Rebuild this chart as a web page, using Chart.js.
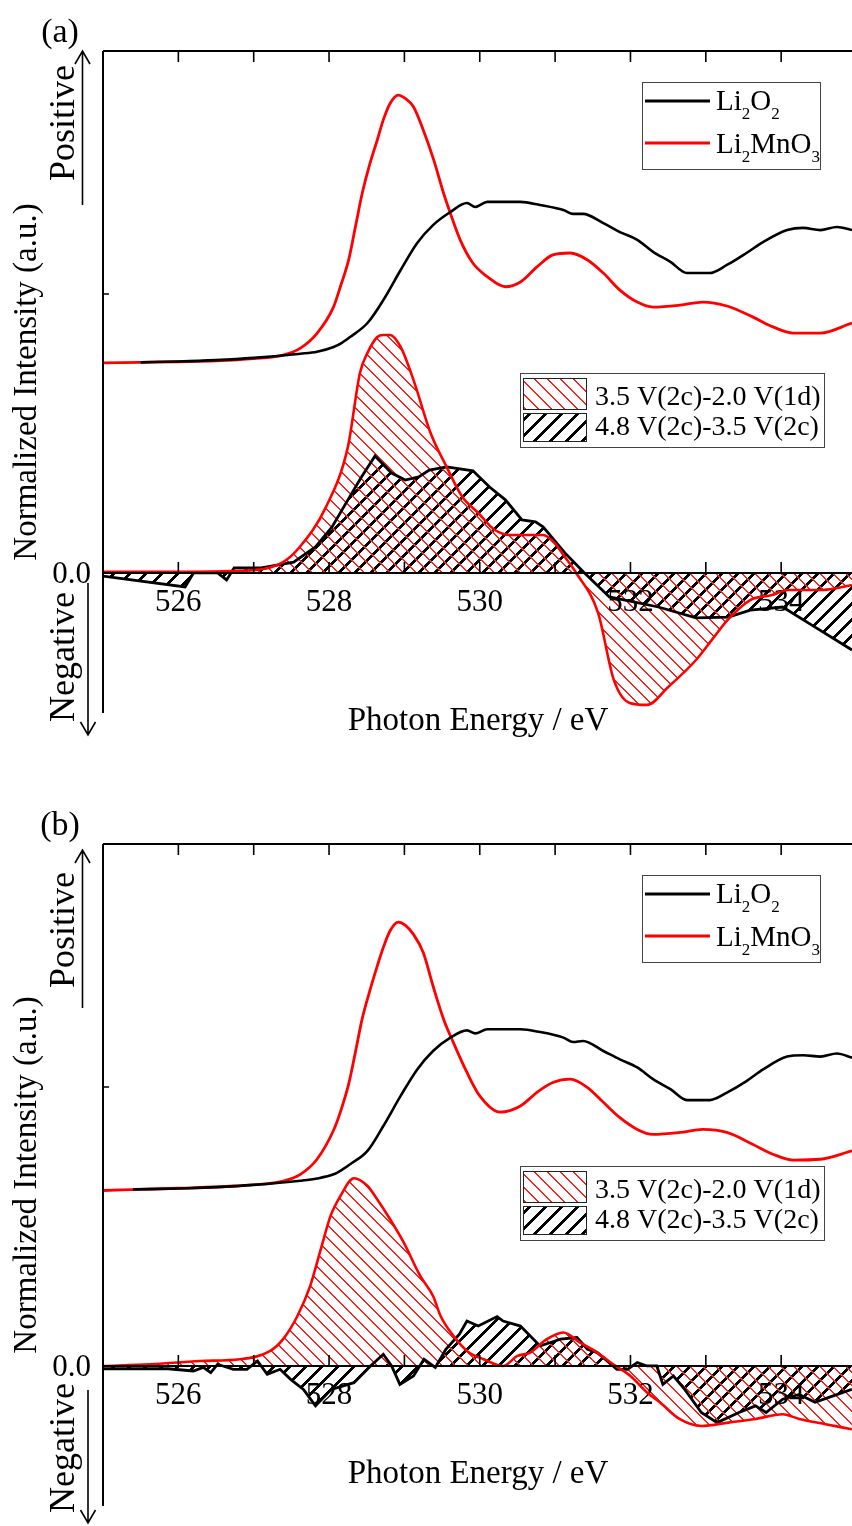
<!DOCTYPE html>
<html>
<head>
<meta charset="utf-8">
<script src="https://cdn.jsdelivr.net/npm/chart.js@4.4.1/dist/chart.umd.min.js"></script>
<style>
  body { margin: 0; background: #fff; }
  #wrap { position: relative; width: 852px; height: 1526px; }
  canvas { position: absolute; left: 0; }
</style>
</head>
<body>
<div id="wrap">
  <canvas id="panelA" width="852" height="763" style="top:0px"></canvas>
  <canvas id="panelB" width="852" height="733" style="top:793px"></canvas>
</div>
<script>
// ---- datos (energia en eV, intensidad normalizada) ----
// panel (a)
const aMnE = [525.0, 525.5, 526.0, 526.5, 527.0, 527.39, 527.62, 527.84, 528.06, 528.15, 528.26, 528.35, 528.44, 528.53, 528.64, 528.72, 528.81, 528.92, 529.01, 529.12, 529.25, 529.39, 529.52, 529.61, 529.74, 529.91, 530.10, 530.34, 530.54, 530.76, 530.97, 531.20, 531.43, 531.64, 531.86, 532.09, 532.30, 532.66, 532.96, 533.28, 533.62, 533.89, 534.16, 534.52, 534.94];
const aMnI = [0.753, 0.755, 0.757, 0.760, 0.768, 0.781, 0.806, 0.859, 0.954, 1.026, 1.122, 1.241, 1.361, 1.456, 1.552, 1.624, 1.683, 1.713, 1.701, 1.671, 1.588, 1.480, 1.361, 1.289, 1.194, 1.110, 1.062, 1.026, 1.043, 1.097, 1.140, 1.147, 1.122, 1.075, 1.014, 0.971, 0.953, 0.960, 0.971, 0.957, 0.918, 0.882, 0.860, 0.860, 0.896];

const aO2E = [525.5, 526.0, 526.5, 527.0, 527.62, 527.84, 528.06, 528.17, 528.28, 528.51, 528.72, 528.95, 529.17, 529.38, 529.61, 529.83, 529.94, 530.10, 530.54, 530.80, 531.11, 531.24, 531.37, 531.64, 531.86, 532.09, 532.30, 532.53, 532.75, 533.05, 533.28, 533.54, 533.76, 534.08, 534.29, 534.52, 534.74, 534.94];
const aO2I = [0.755, 0.758, 0.763, 0.771, 0.786, 0.793, 0.810, 0.825, 0.846, 0.896, 0.978, 1.086, 1.183, 1.247, 1.294, 1.326, 1.312, 1.330, 1.330, 1.319, 1.301, 1.287, 1.287, 1.254, 1.222, 1.194, 1.151, 1.115, 1.075, 1.075, 1.104, 1.147, 1.186, 1.229, 1.237, 1.229, 1.240, 1.229];

const aRedE = [525.0, 526.0, 527.0, 527.39, 527.61, 527.96, 528.25, 528.41, 528.51, 528.64, 528.72, 528.81, 528.95, 529.12, 529.35, 529.56, 529.77, 529.98, 530.2, 530.42, 530.84, 530.99, 531.13, 531.28, 531.57, 531.78, 531.99, 532.22, 532.5, 532.87, 533.08, 533.29, 533.59, 533.88, 534.09, 534.53, 534.74, 534.94];
const aRedI = [0.004, 0.004, 0.01, 0.039, 0.093, 0.237, 0.452, 0.717, 0.789, 0.846, 0.853, 0.853, 0.81, 0.692, 0.50, 0.38, 0.272, 0.215, 0.154, 0.136, 0.136, 0.108, 0.057, 0, -0.143, -0.384, -0.466, -0.473, -0.409, -0.312, -0.24, -0.168, -0.097, -0.079, -0.061, -0.061, -0.054, -0.043];

const aBlkE = [525.0, 526.09, 526.2, 526.52, 526.64, 526.74, 527.1, 527.53, 527.82, 528.04, 528.25, 528.43, 528.61, 528.83, 529.01, 529.19, 529.33, 529.56, 529.91, 530.13, 530.34, 530.56, 530.74, 530.84, 531.13, 531.39, 531.72, 532.37, 532.87, 533.3, 533.59, 534.02, 534.45, 534.94];
const aBlkI = [-0.011, -0.05, 0, 0, -0.025, 0.018, 0.018, 0.039, 0.093, 0.165, 0.262, 0.344, 0.419, 0.358, 0.333, 0.344, 0.369, 0.38, 0.366, 0.308, 0.262, 0.19, 0.183, 0.165, 0.072, 0, -0.086, -0.122, -0.161, -0.158, -0.133, -0.122, -0.194, -0.276];

// panel (b)
const bMnE = [525.0, 525.5, 526.0, 526.73, 527.39, 527.62, 527.84, 528.06, 528.15, 528.26, 528.35, 528.44, 528.53, 528.64, 528.72, 528.81, 528.92, 529.01, 529.12, 529.25, 529.38, 529.52, 529.65, 529.83, 530.0, 530.27, 530.54, 530.76, 530.97, 531.2, 531.43, 531.64, 531.86, 532.09, 532.3, 532.66, 532.96, 533.28, 533.62, 533.89, 534.16, 534.52, 534.94];
const bMnI = [0.629, 0.633, 0.637, 0.645, 0.663, 0.687, 0.741, 0.845, 0.910, 1.010, 1.125, 1.245, 1.335, 1.434, 1.500, 1.560, 1.591, 1.580, 1.547, 1.482, 1.362, 1.243, 1.159, 1.052, 0.968, 0.910, 0.932, 0.981, 1.016, 1.028, 0.998, 0.945, 0.890, 0.848, 0.830, 0.837, 0.848, 0.837, 0.795, 0.759, 0.738, 0.741, 0.771];

const bO2E = [525.4, 526.0, 526.5, 527.0, 527.62, 527.84, 528.06, 528.17, 528.28, 528.51, 528.72, 528.95, 529.17, 529.38, 529.61, 529.83, 529.94, 530.10, 530.54, 530.80, 531.11, 531.24, 531.37, 531.64, 531.86, 532.09, 532.30, 532.53, 532.75, 533.05, 533.28, 533.54, 533.76, 534.08, 534.29, 534.52, 534.74, 534.94];
const bO2I = [0.633, 0.636, 0.641, 0.649, 0.664, 0.672, 0.687, 0.703, 0.723, 0.771, 0.86, 0.968, 1.063, 1.129, 1.177, 1.203, 1.192, 1.207, 1.207, 1.197, 1.177, 1.161, 1.165, 1.129, 1.099, 1.07, 1.028, 0.992, 0.953, 0.953, 0.98, 1.021, 1.063, 1.109, 1.114, 1.109, 1.12, 1.105];

const bRedE = [525.0, 525.63, 526.29, 526.82, 527.22, 527.39, 527.58, 527.75, 527.89, 528.02, 528.15, 528.33, 528.51, 528.64, 528.81, 528.99, 529.21, 529.38, 529.48, 529.65, 529.83, 530.05, 530.31, 530.5, 530.67, 530.89, 531.11, 531.33, 531.56, 531.77, 532.0, 532.22, 532.39, 532.65, 532.94, 533.3, 533.66, 534.02, 534.24, 534.59, 534.94];
const bRedI = [0, 0.006, 0.018, 0.024, 0.054, 0.096, 0.179, 0.287, 0.418, 0.538, 0.609, 0.673, 0.645, 0.597, 0.526, 0.443, 0.323, 0.251, 0.179, 0.108, 0.054, 0.024, 0, 0.036, 0.048, 0.096, 0.12, 0.084, 0.048, 0.006, -0.036, -0.095, -0.13, -0.19, -0.215, -0.203, -0.19, -0.173, -0.19, -0.209, -0.227];

const bBlkE = [525.0, 525.86, 526.2, 526.33, 526.43, 526.52, 526.73, 526.91, 527.05, 527.18, 527.35, 527.49, 527.66, 527.82, 528.03, 528.33, 528.55, 528.72, 528.83, 528.94, 529.12, 529.26, 529.41, 529.55, 529.73, 529.83, 529.98, 530.23, 530.31, 530.54, 530.8, 530.94, 531.07, 531.29, 531.43, 531.56, 531.69, 531.82, 531.96, 532.09, 532.22, 532.35, 532.43, 532.57, 532.72, 532.94, 533.15, 533.44, 533.66, 533.8, 534.02, 534.24, 534.45, 534.68, 534.94];
const bBlkI = [-0.01, -0.01, -0.018, -0.005, -0.024, 0.006, -0.012, -0.012, 0.018, -0.03, -0.012, -0.048, -0.084, -0.143, -0.084, -0.06, 0, 0.042, 0, -0.066, -0.036, 0.024, -0.005, 0.06, 0.114, 0.161, 0.143, 0.177, 0.161, 0.143, 0.072, 0.084, 0.096, 0.102, 0.06, 0.048, 0.018, -0.012, -0.012, 0.012, 0, 0, -0.066, -0.036, -0.084, -0.167, -0.203, -0.167, -0.143, -0.167, -0.119, -0.102, -0.13, -0.108, -0.084];

// ejes
const xTicks = [526, 527, 528, 529, 530, 531, 532, 533, 534];
const xLabels = [526, 528, 530, 532, 534];
const yTicks = [0, 1];

const SERIF = "'Liberation Serif', 'Times New Roman', serif";

function pts(e, v) {
    return e.map((x, i) => ({ x: x, y: v[i] }));
}

// patron de rayado, dibujado pixel a pixel para que quede nitido
function hatch(ctx, color, size, grosor, dir) {
    const c = document.createElement('canvas');
    c.width = size; c.height = size;
    const g = c.getContext('2d');
    g.fillStyle = color;
    for (let y = 0; y < size; y++) {
        const x = dir === 'back' ? y : size - 1 - y;
        for (let k = -1; k <= 1; k++) {
            g.fillRect(x + k * size - Math.floor(grosor / 2), y, grosor, 1);
        }
    }
    return ctx.createPattern(c, 'repeat');
}

function arrow(ctx, x, yFrom, yTo) {
    const d = yTo > yFrom ? 1 : -1;
    ctx.beginPath();
    ctx.moveTo(x, yFrom); ctx.lineTo(x, yTo);
    ctx.moveTo(x - 7.5, yTo - d * 13); ctx.lineTo(x, yTo); ctx.lineTo(x + 7.5, yTo - d * 13);
    ctx.stroke();
}

function rotText(ctx, txt, x, y, size) {
    ctx.save();
    ctx.translate(x, y);
    ctx.rotate(-Math.PI / 2);
    ctx.font = size + 'px ' + SERIF;
    ctx.textAlign = 'center';
    ctx.textBaseline = 'alphabetic';
    ctx.fillText(txt, 0, 0);
    ctx.restore();
}

// texto con subindices: [['Li',0],['2',1],...]
function chem(ctx, parts, x, y) {
    ctx.textAlign = 'left';
    ctx.textBaseline = 'alphabetic';
    parts.forEach(p => {
        ctx.font = (p[1] ? 17 : 29) + 'px ' + SERIF;
        ctx.fillText(p[0], x, p[1] ? y + 9 : y);
        x += ctx.measureText(p[0]).width;
    });
}

function crearPanel(id, cfg) {
    const canvas = document.getElementById(id);
    const ctx = canvas.getContext('2d');
    const redHatch = hatch(ctx, '#ff2020', 13, 2, 'back');
    const blkHatch = hatch(ctx, '#000000', 16, 4, 'fwd');

    const marco = {
        id: 'marco',
        beforeDatasetsDraw(chart) {
            const c = chart.ctx, xs = chart.scales.x, ys = chart.scales.y;
            const y0 = ys.getPixelForValue(0);
            c.save();
            c.fillStyle = '#000';
            c.font = '31px ' + SERIF;
            c.textAlign = 'center';
            c.textBaseline = 'alphabetic';
            xLabels.forEach(v => c.fillText(String(v), xs.getPixelForValue(v), y0 + 38));
            c.textAlign = 'right';
            c.fillText('0.0', 91, y0 + 10);
            c.restore();
        },
        afterDatasetsDraw(chart) {
            const c = chart.ctx, a = chart.chartArea, xs = chart.scales.x, ys = chart.scales.y;
            const y0 = ys.getPixelForValue(0);
            c.save();
            c.strokeStyle = '#000';
            c.lineWidth = 2;
            c.beginPath();
            c.moveTo(a.left, a.top); c.lineTo(a.right, a.top);
            c.moveTo(a.left, a.top); c.lineTo(a.left, a.bottom);
            c.moveTo(a.left, y0); c.lineTo(a.right, y0);
            c.stroke();
            c.lineWidth = 1.6;
            c.beginPath();
            xTicks.forEach(v => {
                const px = xs.getPixelForValue(v);
                c.moveTo(px, a.top); c.lineTo(px, a.top + 11);
                c.moveTo(px, y0); c.lineTo(px, y0 - 11);
            });
            yTicks.forEach(v => {
                const py = ys.getPixelForValue(v);
                c.moveTo(a.left, py); c.lineTo(a.left + 6, py);
            });
            c.stroke();
            c.restore();
        },
        afterDraw(chart) {
            const c = chart.ctx;
            c.save();
            c.fillStyle = '#000';
            c.strokeStyle = '#000';
            // letra del panel
            c.font = '34px ' + SERIF;
            c.textAlign = 'center';
            c.fillText(cfg.letra, 60, 42);
            // titulos
            c.font = '33px ' + SERIF;
            c.fillText('Photon Energy / eV', 478, cfg.tituloX);
            rotText(c, 'Normalized Intensity (a.u.)', 36, 382, 33);
            rotText(c, 'Positive', 74, cfg.posTexto, 36);
            rotText(c, 'Negative', 74, cfg.negTexto, 36);
            c.lineWidth = 1.6;
            arrow(c, 82.5, cfg.posFlecha[0], cfg.posFlecha[1]);
            arrow(c, 88, cfg.negFlecha[0], cfg.negFlecha[1]);

            // leyenda de espectros de referencia
            c.lineWidth = 1;
            c.strokeStyle = '#444';
            c.fillStyle = '#fff';
            c.fillRect(642, 82, 179, 88);
            c.strokeRect(642.5, 82.5, 178, 87);
            c.lineWidth = 3;
            c.strokeStyle = chart.data.datasets[0].borderColor;
            c.beginPath(); c.moveTo(645, 101); c.lineTo(710, 101); c.stroke();
            c.strokeStyle = chart.data.datasets[1].borderColor;
            c.beginPath(); c.moveTo(645, 143); c.lineTo(710, 143); c.stroke();
            c.fillStyle = '#000';
            chem(c, [['Li', 0], ['2', 1], ['O', 0], ['2', 1]], 716, 110);
            chem(c, [['Li', 0], ['2', 1], ['MnO', 0], ['3', 1]], 716, 153);

            // leyenda de diferencias
            c.lineWidth = 1;
            c.strokeStyle = '#444';
            c.fillStyle = '#fff';
            c.fillRect(520, 373, 305, 75);
            c.strokeRect(520.5, 373.5, 304, 74);
            c.fillStyle = chart.data.datasets[2].backgroundColor;
            c.fillRect(523, 378, 64, 32);
            c.fillStyle = chart.data.datasets[3].backgroundColor;
            c.fillRect(523, 413, 64, 29);
            c.strokeStyle = '#222';
            c.strokeRect(523.5, 378.5, 63, 31);
            c.strokeRect(523.5, 413.5, 63, 28);
            c.fillStyle = '#000';
            c.font = '28px ' + SERIF;
            c.textAlign = 'left';
            c.fillText(chart.data.datasets[2].label, 595, 405);
            c.fillText(chart.data.datasets[3].label, 595, 435);
            c.restore();
        }
    };

    return new Chart(canvas, {
        type: 'line',
        data: {
            datasets: [
                {
                    label: 'Li2O2',
                    data: pts(cfg.o2E, cfg.o2I),
                    borderColor: '#000000',
                    borderWidth: 2.6,
                    fill: false,
                    cubicInterpolationMode: 'monotone',
                },
                {
                    label: 'Li2MnO3',
                    data: pts(cfg.mnE, cfg.mnI),
                    borderColor: '#ff0000',
                    borderWidth: 2.8,
                    fill: false,
                    cubicInterpolationMode: 'monotone',
                },
                {
                    label: '3.5 V(2c)-2.0 V(1d)',
                    data: pts(cfg.redE, cfg.redI),
                    borderColor: '#ff0000',
                    borderWidth: 2.6,
                    backgroundColor: redHatch,
                    fill: 'origin',
                    cubicInterpolationMode: 'monotone',
                },
                {
                    label: '4.8 V(2c)-3.5 V(2c)',
                    data: pts(cfg.blkE, cfg.blkI),
                    borderColor: '#000000',
                    borderWidth: 2.8,
                    backgroundColor: blkHatch,
                    fill: 'origin',
                    tension: 0,
                },
            ],
        },
        options: {
            responsive: false,
            animation: false,
            devicePixelRatio: 1,
            layout: { padding: { left: 103, top: 51, right: 0, bottom: cfg.padAbajo } },
            elements: { point: { radius: 0 } },
            plugins: {
                legend: { display: false },
                tooltip: { enabled: false },
                filler: { drawTime: 'beforeDatasetsDraw' },
            },
            scales: {
                x: { type: 'linear', min: 525, max: 534.94, display: false },
                y: { type: 'linear', min: -0.502, max: 1.871, display: false },
            },
        },
        plugins: [marco],
    });
}

document.addEventListener('DOMContentLoaded', () => {
    crearPanel('panelA', {
        letra: '(a)', padAbajo: 50, tituloX: 730,
        posTexto: 123, posFlecha: [205, 51],
        negTexto: 657, negFlecha: [583, 735],
        mnE: aMnE, mnI: aMnI, o2E: aO2E, o2I: aO2I,
        redE: aRedE, redI: aRedI, blkE: aBlkE, blkI: aBlkI,
    });
    crearPanel('panelB', {
        letra: '(b)', padAbajo: 20, tituloX: 690,
        posTexto: 137, posFlecha: [215, 57],
        negTexto: 655, negFlecha: [597, 730],
        mnE: bMnE, mnI: bMnI, o2E: bO2E, o2I: bO2I,
        redE: bRedE, redI: bRedI, blkE: bBlkE, blkI: bBlkI,
    });
});
</script>
</body>
</html>
